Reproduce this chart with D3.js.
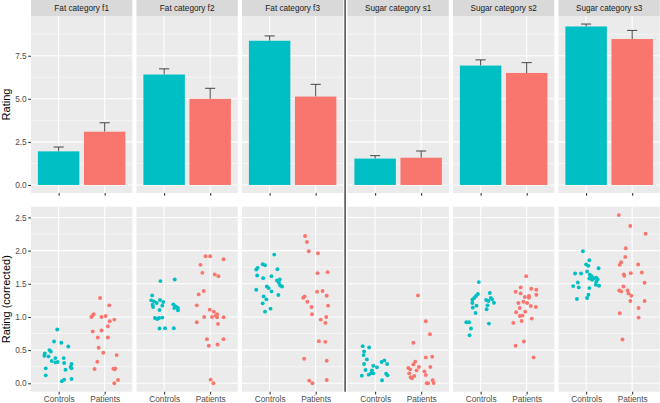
<!DOCTYPE html>
<html><head><meta charset="utf-8">
<script src="https://cdn.jsdelivr.net/npm/d3@7"></script>
<style>body{margin:0;background:#fff;}svg{display:block;font-family:"Liberation Sans",Arial,sans-serif;}</style>
</head><body><svg id="c" width="660" height="403"></svg>
<script>
const categories = ["Fat category f1","Fat category f2","Fat category f3","Sugar category s1","Sugar category s2","Sugar category s3"];
const groups = ["Controls","Patients"];
const meanControls = [1.95, 6.41, 8.37, 1.53, 6.93, 9.20];
const meanPatients = [3.09, 5.00, 5.13, 1.58, 6.50, 8.47];
const seControls = [0.25, 0.33, 0.28, 0.17, 0.33, 0.14];
const sePatients = [0.52, 0.61, 0.71, 0.39, 0.60, 0.50];
const topTicks = [0, 2.5, 5, 7.5];
const bottomTicks = [0, 0.5, 1, 1.5, 2, 2.5];
// [jitter (category units), corrected rating]
const pointsControls = [
 [[-0.03,0.81],[-0.10,0.63],[0.06,0.61],[0.21,0.555],[-0.20,0.50],[-0.17,0.48],[-0.30,0.45],[-0.31,0.415],[-0.22,0.405],[-0.07,0.38],[0.11,0.38],[-0.15,0.335],[-0.07,0.315],[-0.02,0.32],[0.12,0.305],[0.28,0.29],[-0.28,0.225],[0.28,0.225],[0.15,0.205],[0.26,0.245],[-0.28,0.12],[0.12,0.055],[0.07,0.03],[0.28,0.065]],
 [[-0.08,1.54],[0.23,1.565],[-0.26,1.325],[-0.28,1.25],[-0.22,1.235],[-0.09,1.255],[-0.02,1.225],[-0.16,1.21],[-0.25,1.185],[-0.24,1.15],[-0.04,1.17],[0.20,1.19],[0.25,1.16],[0.30,1.135],[0.22,1.135],[0.30,1.10],[-0.10,1.105],[-0.20,0.985],[-0.15,0.97],[-0.11,0.985],[-0.04,0.99],[-0.10,0.825],[0.02,0.83],[0.21,0.83]],
 [[0.10,1.94],[-0.15,1.795],[-0.10,1.78],[-0.26,1.74],[-0.29,1.715],[0.17,1.72],[-0.27,1.625],[-0.14,1.585],[0.04,1.615],[0.16,1.55],[0.22,1.565],[0.20,1.515],[0.23,1.475],[0.27,1.46],[-0.06,1.46],[-0.02,1.435],[-0.29,1.41],[0.04,1.385],[0.19,1.33],[-0.13,1.31],[-0.07,1.265],[-0.15,1.205],[0.02,1.125],[-0.10,1.08]],
 [[-0.27,0.56],[-0.13,0.54],[-0.24,0.48],[-0.25,0.425],[-0.18,0.36],[0.20,0.345],[0.14,0.32],[0.26,0.29],[-0.24,0.29],[-0.04,0.265],[0.04,0.24],[-0.21,0.20],[-0.07,0.195],[-0.04,0.15],[-0.14,0.13],[-0.09,0.15],[0.24,0.145],[0.27,0.12],[-0.29,0.115],[0.15,0.045]],
 [[-0.04,1.525],[0.20,1.36],[-0.06,1.345],[-0.10,1.315],[-0.14,1.285],[-0.18,1.26],[0.22,1.285],[0.25,1.265],[0.29,1.215],[0.12,1.255],[0.17,1.24],[-0.18,1.21],[-0.09,1.17],[0.15,1.175],[-0.17,1.14],[0.13,1.115],[-0.11,1.06],[-0.31,0.92],[-0.25,0.92],[0.18,0.90],[-0.21,0.825],[-0.24,0.725]],
 [[-0.07,1.99],[0.07,1.855],[0.0,1.79],[0.05,1.77],[0.27,1.735],[0.02,1.685],[-0.24,1.655],[-0.11,1.655],[0.08,1.635],[0.12,1.615],[0.07,1.58],[0.16,1.585],[0.22,1.59],[0.25,1.565],[-0.18,1.52],[0.13,1.56],[0.22,1.53],[0.21,1.485],[0.28,1.47],[-0.28,1.465],[-0.16,1.445],[0.07,1.435],[0.05,1.335],[0.02,1.285],[-0.20,1.27]]
];
const pointsPatients = [
 [[-0.10,1.285],[0.10,1.175],[-0.24,1.04],[-0.26,1.02],[-0.29,1.0],[-0.07,1.0],[0.02,1.015],[0.21,0.96],[0.11,0.935],[0.07,0.86],[-0.26,0.78],[-0.07,0.795],[-0.15,0.69],[0.07,0.69],[-0.13,0.535],[-0.03,0.46],[0.26,0.425],[-0.16,0.325],[-0.22,0.215],[0.19,0.22],[0.22,0.21],[0.23,0.225],[0.29,0.05],[0.21,0.0]],
 [[-0.10,1.915],[0.0,1.915],[0.29,1.87],[-0.21,1.785],[-0.17,1.665],[0.10,1.64],[0.18,1.615],[-0.14,1.39],[-0.25,1.34],[-0.29,1.175],[-0.01,1.11],[0.08,1.08],[0.15,1.04],[0.12,1.02],[-0.13,1.0],[0.04,1.0],[0.15,0.995],[0.29,0.995],[-0.29,0.92],[0.17,0.895],[-0.07,0.665],[0.29,0.665],[-0.03,0.565],[0.16,0.585],[0.01,0.055],[0.07,0.0]],
 [[-0.23,2.22],[-0.19,2.13],[-0.15,1.99],[0.05,1.96],[0.04,1.66],[0.26,1.675],[0.03,1.38],[0.15,1.39],[0.24,1.32],[-0.24,1.31],[-0.27,1.29],[-0.18,1.23],[-0.09,1.15],[0.27,1.17],[-0.08,1.04],[0.23,1.0],[0.11,0.96],[0.21,0.91],[0.07,0.635],[0.21,0.625],[-0.25,0.37],[0.24,0.34],[-0.14,0.04],[-0.07,0.0],[0.24,0.05]],
 [[-0.07,1.325],[0.10,0.935],[0.19,0.74],[-0.17,0.61],[0.24,0.40],[0.10,0.39],[-0.13,0.325],[-0.17,0.285],[-0.05,0.245],[-0.28,0.23],[0.20,0.245],[-0.24,0.21],[-0.10,0.195],[0.07,0.18],[-0.26,0.15],[-0.15,0.11],[-0.20,0.075],[-0.23,0.09],[0.10,0.125],[0.12,0.0],[0.15,0.0],[0.25,0.045],[0.27,0.005]],
 [[-0.01,1.615],[-0.13,1.445],[0.10,1.425],[0.21,1.41],[-0.24,1.38],[-0.13,1.355],[0.21,1.335],[0.05,1.315],[-0.04,1.30],[0.05,1.29],[-0.07,1.23],[-0.18,1.21],[0.01,1.21],[0.09,1.165],[0.20,1.15],[-0.15,1.135],[-0.23,1.07],[-0.03,1.08],[-0.09,1.02],[-0.15,1.015],[0.11,0.975],[-0.11,0.94],[-0.29,0.91],[-0.06,0.63],[-0.24,0.565],[0.15,0.39]],
 [[-0.29,2.535],[-0.04,2.37],[0.29,2.255],[-0.14,2.035],[-0.15,1.905],[-0.24,1.825],[-0.27,1.785],[0.13,1.79],[0.21,1.67],[-0.18,1.64],[-0.17,1.62],[-0.03,1.66],[0.27,1.515],[-0.19,1.46],[-0.28,1.40],[-0.24,1.385],[-0.10,1.40],[-0.08,1.355],[-0.02,1.32],[-0.04,1.24],[0.27,1.24],[0.14,1.135],[-0.27,1.055],[0.14,0.99],[-0.21,0.66]]
];
const colors = ["#00BFC4", "#F8766D"];

const svg = d3.select("#c");
const panelX0 = 31, panelStep = 105.5, panelW = 101.3;
const stripTop = 0, stripH = 16;
const topY0 = 16, topY1 = 193;
const botY0 = 206.7, botY1 = 391.7;

const x = d3.scaleLinear().domain([0.4, 2.6]).range([0, panelW]);
const topMax = d3.max(categories.map((c,i)=>Math.max(meanControls[i]+seControls[i], meanPatients[i]+sePatients[i])));
const yTop = d3.scaleLinear().domain([-0.05*topMax, 1.05*topMax]).range([topY1, topY0]);
const allPts = pointsControls.flat().concat(pointsPatients.flat()).map(d=>d[1]);
const bMin = d3.min(allPts), bMax = d3.max(allPts), bR = bMax - bMin;
const yBot = d3.scaleLinear().domain([bMin-0.05*bR, bMax+0.05*bR]).range([botY1, botY0]);

const topMinor = [1.25, 3.75, 6.25, 8.75];
const botMinor = [0.25, 0.75, 1.25, 1.75, 2.25];

categories.forEach((cat, i) => {
  const px = panelX0 + i*panelStep;
  const g = svg.append("g").attr("transform", `translate(${px},0)`);
  g.append("rect").attr("x",0).attr("y",stripTop).attr("width",panelW).attr("height",stripH).attr("fill","#D9D9D9");
  g.append("text").attr("x",panelW/2).attr("y",stripTop+stripH/2+0.5).attr("text-anchor","middle")
    .attr("dominant-baseline","central").attr("font-size","8.2px").attr("fill","#1A1A1A").text(cat);
  g.append("rect").attr("x",0).attr("y",topY0).attr("width",panelW).attr("height",topY1-topY0).attr("fill","#EBEBEB");
  topMinor.forEach(v=>{ if(yTop(v)>topY0) g.append("line").attr("x1",0).attr("x2",panelW).attr("y1",yTop(v)).attr("y2",yTop(v)).attr("stroke","#fff").attr("stroke-width",0.5);});
  topTicks.forEach(v=>g.append("line").attr("x1",0).attr("x2",panelW).attr("y1",yTop(v)).attr("y2",yTop(v)).attr("stroke","#fff").attr("stroke-width",1.07));
  [1,2].forEach(v=>g.append("line").attr("x1",x(v)).attr("x2",x(v)).attr("y1",topY0).attr("y2",topY1).attr("stroke","#fff").attr("stroke-width",1.07));
  const means = [meanControls[i], meanPatients[i]];
  const ses = [seControls[i], sePatients[i]];
  means.forEach((m,k)=>{
    const cx = x(k+1), cw = x(0.4+0.11)-x(0.4);
    g.append("line").attr("x1",cx).attr("x2",cx).attr("y1",yTop(m)).attr("y2",yTop(m+ses[k])).attr("stroke","#333").attr("stroke-width",0.9);
    g.append("line").attr("x1",cx-cw).attr("x2",cx+cw).attr("y1",yTop(m+ses[k])).attr("y2",yTop(m+ses[k])).attr("stroke","#333").attr("stroke-width",0.9);
  });
  means.forEach((m,k)=>{
    g.append("rect").attr("x",x(k+1-0.45)).attr("width",x(k+1+0.45)-x(k+1-0.45))
      .attr("y",yTop(m)).attr("height",yTop(0)-yTop(m)).attr("fill",colors[k]);
  });
  const axTop = g.append("g").attr("transform",`translate(0,${topY1})`)
    .call(d3.axisBottom(x).tickValues([1,2]).tickSize(2.75).tickFormat(""));
  axTop.select(".domain").remove();
  axTop.selectAll("line").attr("stroke","#333").attr("stroke-width",1.07);

  g.append("rect").attr("x",0).attr("y",botY0).attr("width",panelW).attr("height",botY1-botY0).attr("fill","#EBEBEB");
  botMinor.forEach(v=>g.append("line").attr("x1",0).attr("x2",panelW).attr("y1",yBot(v)).attr("y2",yBot(v)).attr("stroke","#fff").attr("stroke-width",0.5));
  bottomTicks.forEach(v=>g.append("line").attr("x1",0).attr("x2",panelW).attr("y1",yBot(v)).attr("y2",yBot(v)).attr("stroke","#fff").attr("stroke-width",1.07));
  [1,2].forEach(v=>g.append("line").attr("x1",x(v)).attr("x2",x(v)).attr("y1",botY0).attr("y2",botY1).attr("stroke","#fff").attr("stroke-width",1.07));
  [pointsControls[i], pointsPatients[i]].forEach((pts,k)=>{
    g.append("g").selectAll("circle").data(pts).join("circle")
      .attr("cx",d=>x(k+1+d[0])).attr("cy",d=>yBot(d[1])).attr("r",1.95).attr("fill",colors[k]);
  });
  const axBot = g.append("g").attr("transform",`translate(0,${botY1})`)
    .call(d3.axisBottom(x).tickValues([1,2]).tickSize(2.75).tickPadding(1.5).tickFormat(d=>groups[d-1]));
  axBot.select(".domain").remove();
  axBot.selectAll("line").attr("stroke","#333").attr("stroke-width",1.07);
  axBot.selectAll("text").attr("fill","#4D4D4D").attr("font-size","8.3px").attr("font-family","Liberation Sans, Arial, sans-serif");

  if (i===0) {
    const ayT = g.append("g").call(d3.axisLeft(yTop).tickValues(topTicks).tickSize(2.75).tickPadding(1.5).tickFormat(d3.format(".1f")));
    ayT.select(".domain").remove();
    ayT.selectAll("line").attr("stroke","#333").attr("stroke-width",1.07);
    ayT.selectAll("text").attr("fill","#4D4D4D").attr("font-size","8.3px").attr("font-family","Liberation Sans, Arial, sans-serif");
    const ayB = g.append("g").call(d3.axisLeft(yBot).tickValues(bottomTicks).tickSize(2.75).tickPadding(1.5).tickFormat(d3.format(".1f")));
    ayB.select(".domain").remove();
    ayB.selectAll("line").attr("stroke","#333").attr("stroke-width",1.07);
    ayB.selectAll("text").attr("fill","#4D4D4D").attr("font-size","8.3px").attr("font-family","Liberation Sans, Arial, sans-serif");
  }
});

const divX = panelX0 + 3*panelStep - (panelStep-panelW)/2 - 0.3;
svg.append("line").attr("x1",divX).attr("x2",divX).attr("y1",0).attr("y2",botY1).attr("stroke","#555").attr("stroke-width",1.6);

svg.append("text").attr("transform",`translate(6,${(topY0+topY1)/2}) rotate(-90)`).attr("text-anchor","middle")
  .attr("dominant-baseline","central").attr("font-size","11px").attr("fill","#000").text("Rating");
svg.append("text").attr("transform",`translate(6,${(botY0+botY1)/2}) rotate(-90)`).attr("text-anchor","middle")
  .attr("dominant-baseline","central").attr("font-size","11px").attr("fill","#000").text("Rating (corrected)");
</script></body></html>
